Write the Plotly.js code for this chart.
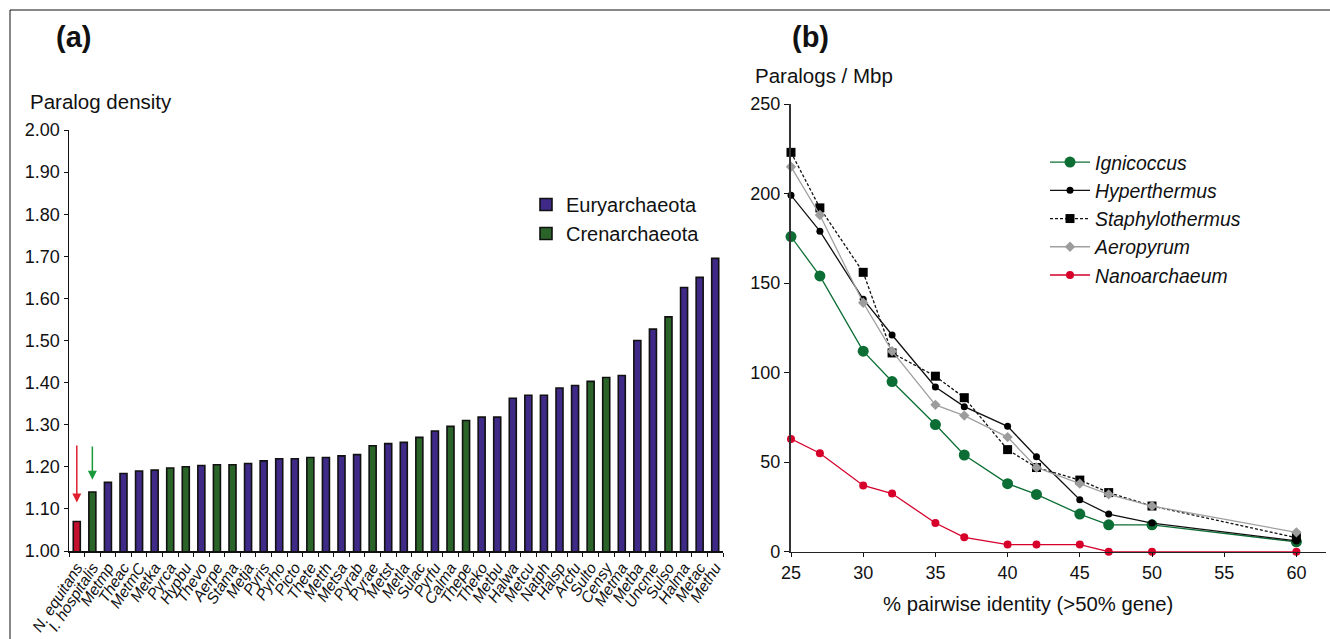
<!DOCTYPE html>
<html>
<head>
<meta charset="utf-8">
<script src="https://cdn.plot.ly/plotly-3.0.1.min.js"></script>
<style>html,body{margin:0;padding:0;background:#fff;}#chart{width:1330px;height:639px;}</style>
</head>
<body>
<div id="chart"></div>
<script>
// ---------- Panel (a) data ----------
const genomes = ["N. equitans","I. hospitalis","Metmp","Theac","MetmC","Metka","Pyrca","Hypbu","Thevo","Aerpe",
  "Stama","Metja","Pyris","Pyrho","Picto","Thete","Metth","Metsa","Pyrab","Pyrae",
  "Metst","Metla","Sulac","Pyrfu","Calma","Thepe","Theko","Metbu","Halwa","Metcu",
  "Natph","Halsp","Arcfu","Sulto","Censy","Metma","Metba","Uncme","Sulso","Halma","Metac","Methu"];
const paralogDensity = [1.07,1.14,1.163,1.184,1.19,1.192,1.197,1.20,1.203,1.205,
  1.205,1.208,1.214,1.219,1.219,1.222,1.222,1.226,1.229,1.25,
  1.255,1.258,1.27,1.285,1.296,1.31,1.318,1.318,1.363,1.37,
  1.37,1.387,1.393,1.403,1.412,1.417,1.50,1.527,1.556,1.626,1.65,1.695];
const phylum = ["Nano","Cren","Eury","Eury","Eury","Eury","Cren","Cren","Eury","Cren",
  "Cren","Eury","Eury","Eury","Eury","Cren","Eury","Eury","Eury","Cren",
  "Eury","Eury","Cren","Eury","Cren","Cren","Eury","Eury","Eury","Eury",
  "Eury","Eury","Eury","Cren","Cren","Eury","Eury","Eury","Cren","Eury","Eury","Eury"];
const yTicksA = [1.0,1.1,1.2,1.3,1.4,1.5,1.6,1.7,1.8,1.9,2.0];

// ---------- Panel (b) data ----------
const identity = [25,27,30,32,35,37,40,42,45,47,50,60];
const ignicoccus      = [176,154,112,95,71,54,38,32,21,15,15,5.5];
const hyperthermus    = [199,179,141,121,92,81,70,53,29,21,16,6];
const staphylothermus = [223,192,156,111,98,86,57,47,40,33,25.5,7.8];
const aeropyrum       = [215,188,139,112,82,76,64,47,38,32,25.5,10.8];
const nanoarchaeum    = [63,55,37,32.5,16,8,4,4,4,0,0,0];
const xTicksB = [25,30,35,40,45,50,55,60];
const yTicksB = [0,50,100,150,200,250];

const FONT = "Liberation Sans, Arial, Helvetica, sans-serif";
const W = 1330, H = 639;
const px = v => v / W;
const py = v => 1 - v / H;

const groupStyle = {
  Eury: {name: "Euryarchaeota", color: "#3F2A88", legend: true},
  Cren: {name: "Crenarchaeota", color: "#2A6428", legend: true},
  Nano: {name: "Nanoarchaeota", color: "#C4102C", legend: false}
};

const traces = [];
["Eury","Cren","Nano"].forEach(g => {
  const xs = [], ys = [];
  genomes.forEach((n, i) => { if (phylum[i] === g) { xs.push(n); ys.push(paralogDensity[i]); } });
  traces.push({
    type: "bar", x: xs, y: ys, name: groupStyle[g].name,
    xaxis: "x", yaxis: "y", legend: "legend",
    showlegend: groupStyle[g].legend,
    marker: {color: groupStyle[g].color, line: {color: "#111", width: 1.6}},
    hoverinfo: "x+y"
  });
});

const lineSeries = [
  {name: "Ignicoccus", y: ignicoccus, color: "#0C6E34", dash: "solid", symbol: "circle", size: 11, lcolor: "#0C6E34"},
  {name: "Hyperthermus", y: hyperthermus, color: "#000", dash: "solid", symbol: "circle", size: 7, lcolor: "#111"},
  {name: "Staphylothermus", y: staphylothermus, color: "#000", dash: "3px,2px", symbol: "square", size: 9, lcolor: "#111"},
  {name: "Aeropyrum", y: aeropyrum, color: "#9C9C9C", dash: "solid", symbol: "diamond", size: 8, lcolor: "#A0A0A0"},
  {name: "Nanoarchaeum", y: nanoarchaeum, color: "#D6002B", dash: "solid", symbol: "circle", size: 8, lcolor: "#D6002B"}
];
lineSeries.forEach(s => {
  traces.push({
    type: "scatter", mode: "lines+markers", x: identity, y: s.y, name: s.name,
    xaxis: "x2", yaxis: "y2", legend: "legend2", cliponaxis: false,
    line: {color: s.lcolor, width: 1.3, dash: s.dash},
    marker: {color: s.color, symbol: s.symbol, size: s.size, line: {width: 0}}
  });
});

const layout = {
  width: W, height: H,
  margin: {l: 0, r: 0, t: 0, b: 0},
  paper_bgcolor: "#fff", plot_bgcolor: "rgba(0,0,0,0)",
  font: {family: FONT, color: "#111", size: 17},
  barmode: "overlay", bargap: 0.55,
  showlegend: true,
  xaxis: {
    domain: [px(69), px(723)], anchor: "y",
    type: "category", categoryorder: "array", categoryarray: genomes,
    range: [-0.5, genomes.length - 0.5],
    tickmode: "linear", tick0: 0, dtick: 1,
    showline: true, linecolor: "#111", linewidth: 1.5,
    ticks: "outside", ticklen: 4, tickcolor: "#111", tickson: "boundaries",
    tickangle: -57, tickfont: {family: FONT, size: 15.5, style: "italic", color: "#111"},
    showgrid: false, zeroline: false, fixedrange: true
  },
  yaxis: {
    domain: [py(551), py(130)], anchor: "x",
    range: [1.0, 2.0], tickvals: yTicksA, tickformat: ".2f",
    showline: true, linecolor: "#111", linewidth: 1.5,
    ticks: "outside", ticklen: 4, tickcolor: "#111",
    tickfont: {family: FONT, size: 18, color: "#111"},
    showgrid: false, zeroline: false, fixedrange: true
  },
  xaxis2: {
    domain: [px(791), px(1326)], anchor: "y2",
    range: [25, 62.05], tickvals: xTicksB,
    showline: true, linecolor: "#222", linewidth: 1.5,
    ticks: "outside", ticklen: 4, tickcolor: "#111",
    tickfont: {family: FONT, size: 18, color: "#111"},
    showgrid: false, zeroline: false, fixedrange: true
  },
  yaxis2: {
    domain: [py(551.7), py(104)], anchor: "x2",
    range: [0, 250], tickvals: yTicksB,
    showline: true, linecolor: "#333", linewidth: 2.2,
    ticks: "outside", ticklen: 5, tickcolor: "#111",
    tickfont: {family: FONT, size: 18, color: "#111"},
    showgrid: false, zeroline: false, fixedrange: true
  },
  legend: {
    x: px(526), y: py(185), xanchor: "left", yanchor: "top",
    bgcolor: "rgba(0,0,0,0)", borderwidth: 0,
    font: {family: FONT, size: 20, color: "#111"},
    itemwidth: 30, tracegroupgap: 0, traceorder: "normal"
  },
  legend2: {
    x: px(1045), y: py(143), xanchor: "left", yanchor: "top",
    bgcolor: "rgba(0,0,0,0)", borderwidth: 0,
    font: {family: FONT, size: 19.4, style: "italic", color: "#111"},
    itemwidth: 40, traceorder: "normal"
  },
  annotations: [
    {xref: "paper", yref: "paper", x: px(73), y: py(37), text: "<b>(a)</b>", showarrow: false,
     xanchor: "center", yanchor: "middle", font: {family: FONT, size: 29, color: "#111"}},
    {xref: "paper", yref: "paper", x: px(810), y: py(37), text: "<b>(b)</b>", showarrow: false,
     xanchor: "center", yanchor: "middle", font: {family: FONT, size: 29, color: "#111"}},
    {xref: "paper", yref: "paper", x: px(28), y: py(101), text: "Paralog density", showarrow: false,
     xanchor: "left", yanchor: "middle", font: {family: FONT, size: 20.5, color: "#111"}},
    {xref: "paper", yref: "paper", x: px(753), y: py(76), text: "Paralogs / Mbp", showarrow: false,
     xanchor: "left", yanchor: "middle", font: {family: FONT, size: 20.5, color: "#111"}},
    {xref: "paper", yref: "paper", x: px(1028), y: py(604), text: "% pairwise identity (>50% gene)", showarrow: false,
     xanchor: "center", yanchor: "middle", font: {family: FONT, size: 20.3, color: "#111"}},
    {xref: "x", yref: "y", axref: "x", ayref: "y", x: genomes[0], y: 1.115, ax: genomes[0], ay: 1.254,
     showarrow: true, arrowhead: 2, arrowsize: 1.2, arrowwidth: 1.5, arrowcolor: "#E0202E", text: ""},
    {xref: "x", yref: "y", axref: "x", ayref: "y", x: genomes[1], y: 1.169, ax: genomes[1], ay: 1.252,
     showarrow: true, arrowhead: 2, arrowsize: 1.2, arrowwidth: 1.5, arrowcolor: "#1A9A3A", text: ""}
  ],
  shapes: [
    {type: "line", xref: "paper", yref: "paper", x0: px(10), x1: 1, y0: py(10), y1: py(10), line: {color: "#111", width: 1}},
    {type: "line", xref: "paper", yref: "paper", x0: px(10), x1: px(10), y0: py(10), y1: 0, line: {color: "#111", width: 1}}
  ]
};

Plotly.newPlot("chart", traces, layout, {displayModeBar: false, staticPlot: true});
</script>
</body>
</html>
